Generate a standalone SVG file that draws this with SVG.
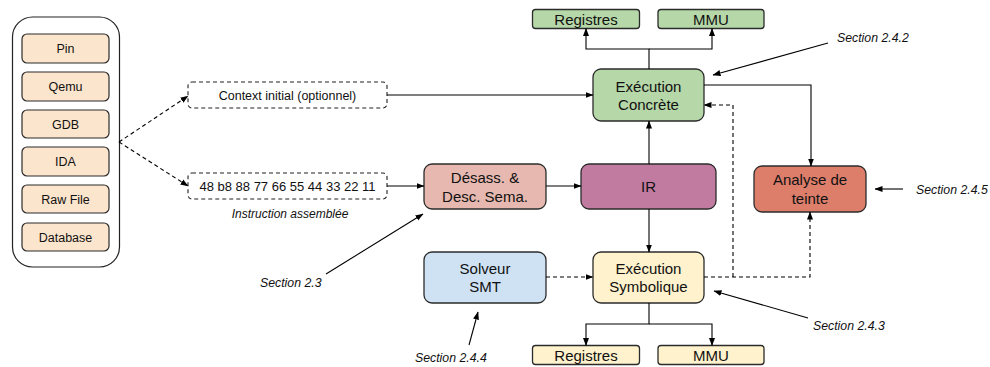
<svg xmlns="http://www.w3.org/2000/svg" width="990" height="367" viewBox="0 0 990 367">
<defs>
<marker id="ah" markerUnits="userSpaceOnUse" markerWidth="8" markerHeight="8" viewBox="0 0 8 8" refX="7.5" refY="4" orient="auto">
<path d="M0,1 L8,4 L0,7 Z" fill="#000"/>
</marker>
<style>
.box{stroke:#2b2b2b;stroke-width:1.3}
.t{font-family:"Liberation Sans",Arial,sans-serif;font-size:15px;fill:#111;text-anchor:middle}
.s{font-family:"Liberation Sans",Arial,sans-serif;font-size:12.5px;fill:#111;text-anchor:middle}
.sec{font-family:"Liberation Sans",Arial,sans-serif;font-size:12.3px;font-style:italic;fill:#111}
.c{fill:none;stroke:#000;stroke-width:1.1}
.d{fill:none;stroke:#000;stroke-width:1.1;stroke-dasharray:4 3}
.db{fill:#fff;stroke:#222;stroke-width:1.1;stroke-dasharray:4 3}
.src{fill:#fce5cd;stroke:#2b2b2b;stroke-width:1.2}
</style>
</defs>
<rect width="990" height="367" fill="#fff"/>

<g id="sources">
<rect x="12.5" y="17" width="107" height="250" rx="20" fill="#fff" stroke="#222" stroke-width="1.2"/>
<rect class="src" x="22" y="34" width="87" height="29" rx="5"/><text class="s" x="65.5" y="53">Pin</text>
<rect class="src" x="22" y="72" width="87" height="29" rx="5"/><text class="s" x="65.5" y="91">Qemu</text>
<rect class="src" x="22" y="110" width="87" height="28" rx="5"/><text class="s" x="65.5" y="128.5">GDB</text>
<rect class="src" x="22" y="147" width="87" height="29" rx="5"/><text class="s" x="65.5" y="166">IDA</text>
<rect class="src" x="22" y="185" width="87" height="28" rx="5"/><text class="s" x="65.5" y="203.5">Raw File</text>
<rect class="src" x="22" y="223" width="87" height="28" rx="5"/><text class="s" x="65.5" y="241.5">Database</text>
</g>

<g id="context">
<rect class="db" x="188" y="82" width="199" height="26" rx="4"/>
<text class="s" x="287.5" y="99.5">Context initial (optionnel)</text>
</g>
<g id="hex">
<rect class="db" x="188" y="173" width="199" height="26" rx="4"/>
<text class="s" x="287.5" y="190.5" style="font-size:13px">48 b8 88 77 66 55 44 33 22 11</text>
<text class="sec" x="290" y="218" text-anchor="middle" style="font-size:12px">Instruction assemblée</text>
</g>

<g id="desass">
<rect class="box" x="424" y="164" width="122" height="45" rx="8" fill="#e6b8af"/>
<text class="t" x="485" y="183">Désass. &amp;</text>
<text class="t" x="485" y="201.5">Desc. Sema.</text>
</g>
<g id="ir">
<rect class="box" x="581" y="164" width="135" height="45" rx="8" fill="#c27ba0"/>
<text class="t" x="648.5" y="191.5">IR</text>
</g>
<g id="exec-concrete">
<rect class="box" x="593" y="69" width="111" height="52" rx="8" fill="#b6d7a8"/>
<text class="t" x="648.5" y="91.5">Exécution</text>
<text class="t" x="648.5" y="110">Concrète</text>
</g>
<g id="reg-top">
<rect class="box" x="532.5" y="9.5" width="107" height="19" rx="3" fill="#b6d7a8"/>
<text class="t" x="586" y="24.5">Registres</text>
</g>
<g id="mmu-top">
<rect class="box" x="658" y="9.5" width="106" height="19" rx="3" fill="#b6d7a8"/>
<text class="t" x="711" y="24.5">MMU</text>
</g>
<g id="analyse">
<rect class="box" x="754" y="166" width="112" height="46" rx="8" fill="#dd7e6b"/>
<text class="t" x="810" y="185">Analyse de</text>
<text class="t" x="810" y="203.5">teinte</text>
</g>
<g id="solveur">
<rect class="box" x="424" y="252" width="122" height="51" rx="8" fill="#cfe2f3"/>
<text class="t" x="485" y="273.5">Solveur</text>
<text class="t" x="485" y="292">SMT</text>
</g>
<g id="exec-symb">
<rect class="box" x="593" y="252" width="111" height="51" rx="8" fill="#fff2cc"/>
<text class="t" x="648.5" y="274">Exécution</text>
<text class="t" x="648.5" y="292">Symbolique</text>
</g>
<g id="reg-bottom">
<rect class="box" x="532.5" y="345.5" width="107" height="19" rx="3" fill="#fff2cc"/>
<text class="t" x="586" y="360.5">Registres</text>
</g>
<g id="mmu-bottom">
<rect class="box" x="658" y="345.5" width="106" height="19" rx="3" fill="#fff2cc"/>
<text class="t" x="711" y="360.5">MMU</text>
</g>

<g id="labels">
<text class="sec" x="837" y="42">Section 2.4.2</text>
<text class="sec" x="916" y="194">Section 2.4.5</text>
<text class="sec" x="813" y="330">Section 2.4.3</text>
<text class="sec" x="415" y="362">Section 2.4.4</text>
<text class="sec" x="260" y="287">Section 2.3</text>
</g>

<g id="connectors">
<path class="d" d="M119,142 L188,96" marker-end="url(#ah)"/>
<path class="d" d="M119,142 L188,186" marker-end="url(#ah)"/>
<path class="c" d="M387,95 H593" marker-end="url(#ah)"/>
<path class="c" d="M387,186 H424" marker-end="url(#ah)"/>
<path class="c" d="M546,186 H581" marker-end="url(#ah)"/>
<path class="c" d="M649,164 V121" marker-end="url(#ah)"/>
<path class="c" d="M649,209 V252" marker-end="url(#ah)"/>
<path class="c" d="M649,69 V49 H586 V28.5" marker-end="url(#ah)"/>
<path class="c" d="M649,49 H712 V28.5" marker-end="url(#ah)"/>
<path class="c" d="M704,85 H811 V166" marker-end="url(#ah)"/>
<path class="d" d="M704,277 H810 V212" marker-end="url(#ah)"/>
<path class="d" d="M733,277 V105 H704" marker-end="url(#ah)"/>
<path class="d" d="M546,277 H593" marker-end="url(#ah)"/>
<path class="c" d="M649,303 V324 H586 V345.5" marker-end="url(#ah)"/>
<path class="c" d="M649,324 H712 V345.5" marker-end="url(#ah)"/>
<path class="c" d="M828,43 L713,75" marker-end="url(#ah)"/>
<path class="c" d="M903,189 H875" marker-end="url(#ah)"/>
<path class="c" d="M808,318 L714,291" marker-end="url(#ah)"/>
<path class="c" d="M469,345 L478,312" marker-end="url(#ah)"/>
<path class="c" d="M326,274 L423,214" marker-end="url(#ah)"/>
</g>
</svg>
